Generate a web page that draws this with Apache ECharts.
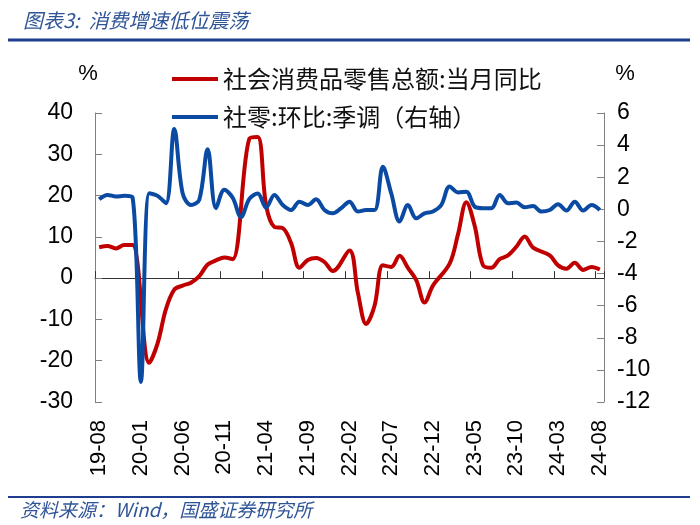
<!DOCTYPE html>
<html>
<head>
<meta charset="utf-8">
<script src="https://cdn.jsdelivr.net/npm/echarts@6/dist/echarts.min.js"></script>
<style>
  html, body { margin: 0; padding: 0; background: #fff; }
  #chart { width: 700px; height: 525px; }
</style>
</head>
<body>
<div id="chart"></div>
<script>
// 月份 2019-08 ~ 2024-08
const months = [];
for (let y = 2019, m = 8; y < 2024 || (y === 2024 && m <= 8); m++) {
  if (m > 12) { m = 1; y++; }
  months.push(String(y).slice(2) + '-' + String(m).padStart(2, '0'));
}

// 社会消费品零售总额:当月同比 (%)，1月无数据
const retailYoy = [
  7.5, 7.8, 7.2, 8.0, 8.0,
  null, -20.5, -15.8, -7.5, -2.8, -1.8, -1.1, 0.5, 3.3, 4.3, 5.0, 4.6,
  null, 33.8, 34.2, 17.7, 12.4, 12.1, 8.5, 2.5, 4.4, 4.9, 3.9, 1.7,
  null, 6.7, -3.5, -11.1, -6.7, 3.1, 2.7, 5.4, 2.5, -0.5, -5.9, -1.8,
  null, 3.5, 10.6, 18.4, 12.7, 3.1, 2.5, 4.6, 5.5, 7.6, 10.1, 7.4,
  null, 5.5, 3.1, 2.3, 3.7, 2.0, 2.7, 2.1
];

// 社零:环比:季调 (%，右轴)
const retailMom = [
  0.63, 0.9, 0.8, 0.84, 0.75,
  -10.75, 1.0, 0.84, 0.38, 5.0, 1.0, 0.27, 0.6, 3.75, 0.07, 1.22, 0.72,
  -0.48, 0.65, 0.98, 0.1, 0.9, 0.27, -0.04, 0.48, 0.27, 0.63, -0.04, -0.25,
  0.07, 0.48, -0.14, -0.04, -0.04, 2.65, 1.0, -0.76, 0.27, -0.56, -0.25, -0.14,
  0.27, 1.42, 1.05, 1.1, 0.17, 0.07, 0.07, 0.9, 0.38, 0.42, 0.13, 0.21,
  -0.14, -0.04, 0.32, -0.08, 0.48, -0.08, 0.27, -0.04
];

const legendNames = ['社会消费品零售总额:当月同比', '社零:环比:季调（右轴）'];

const numFont = "'Liberation Sans Narrow', 'Arial Narrow', 'Liberation Sans', Arial, sans-serif";
const cjkFont = "'Noto Sans CJK SC', sans-serif";
const navy = '#1f3d8f';

const chart = echarts.init(document.getElementById('chart'));
chart.setOption({
  animation: false,
  title: {
    text: '图表3:  消费增速低位震荡',
    left: 18, top: 5,
    textStyle: { fontFamily: cjkFont, fontStyle: 'italic', fontWeight: 'normal', fontSize: 20, color: '#2f5597' }
  },
  graphic: [
    { type: 'line', shape: { x1: 8, y1: 40, x2: 690, y2: 40 }, style: { stroke: navy, lineWidth: 3 } },
    { type: 'line', shape: { x1: 8, y1: 497, x2: 690, y2: 497 }, style: { stroke: navy, lineWidth: 2 } },
    {
      type: 'text', left: 20, top: 500,
      style: { text: '资料来源：Wind，国盛证券研究所', font: 'italic 19px ' + cjkFont, fill: '#2f5597' }
    }
  ],
  legend: {
    orient: 'vertical',
    left: 167, top: 62,
    icon: 'rect',
    itemWidth: 46, itemHeight: 4, itemGap: 14,
    data: legendNames,
    textStyle: { fontFamily: cjkFont, fontSize: 24, lineHeight: 24, color: '#111' }
  },
  grid: { left: 95, right: 96, top: 113, bottom: 123, containLabel: false },
  xAxis: [
    {
      type: 'category',
      data: months,
      boundaryGap: true,
      axisLine: { show: false, onZero: false },
      axisTick: { show: false },
      axisLabel: {
        interval: 4, rotate: 90, margin: 18,
        fontFamily: numFont, fontSize: 22, color: '#000'
      }
    },
    {
      type: 'category',
      data: months,
      position: 'bottom',
      boundaryGap: true,
      axisLine: { show: true, onZero: true, onZeroAxisIndex: 0, lineStyle: { color: '#333', width: 1 } },
      axisTick: { show: true, inside: true, interval: 4, length: 7, lineStyle: { color: '#333' } },
      axisLabel: { show: false }
    }
  ],
  yAxis: [
    {
      type: 'value',
      min: -30, max: 40, interval: 10,
      name: '%', nameLocation: 'end', nameGap: 28,
      nameTextStyle: { fontFamily: numFont, fontSize: 22, color: '#000', align: 'center', padding: [0, 14, 0, 0] },
      splitLine: { show: false },
      axisLine: { show: true, lineStyle: { color: '#808080' } },
      axisTick: { show: true, inside: true, length: 7, lineStyle: { color: '#808080' } },
      axisLabel: { margin: 22, fontFamily: numFont, fontSize: 23, color: '#000' }
    },
    {
      type: 'value',
      min: -12, max: 6, interval: 2,
      name: '%', nameLocation: 'end', nameGap: 28,
      nameTextStyle: { fontFamily: numFont, fontSize: 22, color: '#000', align: 'center', padding: [0, 0, 0, 42] },
      splitLine: { show: false },
      axisLine: { show: true, lineStyle: { color: '#808080' } },
      axisTick: { show: true, inside: true, length: 7, lineStyle: { color: '#808080' } },
      axisLabel: { margin: 13, fontFamily: numFont, fontSize: 23, color: '#000' }
    }
  ],
  series: [
    {
      name: legendNames[0],
      type: 'line',
      xAxisIndex: 0, yAxisIndex: 0,
      data: retailYoy,
      connectNulls: true,
      smooth: 0.35,
      symbol: 'none',
      lineStyle: { color: '#c00000', width: 4 },
      itemStyle: { color: '#c00000' }
    },
    {
      name: legendNames[1],
      type: 'line',
      xAxisIndex: 0, yAxisIndex: 1,
      data: retailMom,
      smooth: 0.35,
      symbol: 'none',
      lineStyle: { color: '#0b4aa2', width: 4 },
      itemStyle: { color: '#0b4aa2' }
    }
  ]
});
</script>
</body>
</html>
